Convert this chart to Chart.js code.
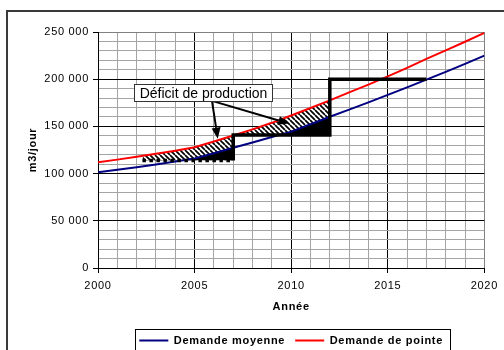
<!DOCTYPE html>
<html>
<head>
<meta charset="utf-8">
<script src="https://cdn.jsdelivr.net/npm/chart.js@4/dist/chart.umd.min.js"></script>
<style>
  html, body { margin: 0; padding: 0; background: #fff; overflow: hidden; }
  #frame { position: absolute; left: 6px; top: 10px; width: 540px; height: 380px; border: 2px solid #3a3a3a; }
  #wrap { position: absolute; left: 0; top: 0; width: 504px; height: 350px; }
  canvas { display: block; }
</style>
</head>
<body>
<div id="frame"></div>
<div id="wrap"><canvas id="demand-chart" width="504" height="350"></canvas></div>
<script>
'use strict';

const years = [2000, 2001, 2002, 2003, 2004, 2005, 2006, 2007, 2008, 2009, 2010,
  2011, 2012, 2013, 2014, 2015, 2016, 2017, 2018, 2019, 2020];
const avgDemand = [101500, 104000, 106800, 109700, 112700, 116000, 121500, 127300, 133000, 138700, 144500,
  152300, 160200, 167800, 175500, 183400, 191300, 199500, 207800, 216300, 225000];
const peakDemand = [112000, 114800, 117800, 121000, 124300, 128000, 134000, 140300, 146800, 153800, 161500,
  169500, 177600, 186000, 194300, 203000, 212000, 221500, 230500, 239700, 249000];

// production capacity steps
const capYears = [2002.3, 2007, 2007, 2012, 2012, 2017];
const capValues = [114000, 114000, 141000, 141000, 200000, 200000];

// deficit zone: starts where the dotted capacity starts, ends at 2012
const deficitStart = [2002.3, 107600, 118700]; // year, avg, peak read at the start
const deficitEnd = 2012;

const seriesLabels = ['Demande moyenne', 'Demande de pointe'];
const deficitLabel = 'Déficit de production';
const labelPos = [2005.45, 186000];
const arrowFrom = [2005.9, 177000];
const arrowTips = [[2006.2, 137000], [2009.9, 153000]];

const FONT = '"Liberation Sans", Arial, sans-serif';
const MINOR = '#a4a4a4';
const EDGE = '#808080';

function formatThousands(v) {
  return String(v).replace(/\B(?=(\d{3})+(?!\d))/g, ' ');
}

function toPoints(xs, ys) {
  return xs.map((x, i) => ({ x: x, y: ys[i] }));
}

// build the deficit polygons from the demand arrays
const deficitX = [deficitStart[0]];
const deficitAvg = [deficitStart[1]];
const deficitPeak = [deficitStart[2]];
const deficitCap = [capValues[0]];
years.forEach((yr, i) => {
  if (yr <= deficitStart[0] || yr > deficitEnd) return;
  deficitX.push(yr);
  deficitAvg.push(avgDemand[i]);
  deficitPeak.push(peakDemand[i]);
  deficitCap.push(yr <= capYears[1] ? capValues[0] : capValues[2]);
  if (yr === capYears[1]) {
    deficitX.push(yr);
    deficitAvg.push(avgDemand[i]);
    deficitPeak.push(peakDemand[i]);
    deficitCap.push(capValues[2]);
  }
});

function makeHatch() {
  const s = 5;
  const c = document.createElement('canvas');
  c.width = s;
  c.height = s;
  const g = c.getContext('2d');
  g.fillStyle = '#fff';
  g.fillRect(0, 0, s, s);
  g.strokeStyle = '#000';
  g.lineWidth = 1.7;
  g.beginPath();
  for (const k of [-s, 0, s]) {
    g.moveTo(k, 0);
    g.lineTo(k + s, s);
  }
  g.stroke();
  return g.createPattern(c, 'repeat');
}

const spacingPlugin = {
  id: 'spacing',
  beforeUpdate(chart) { chart.ctx.letterSpacing = '0.7px'; },
  beforeDraw(chart) { chart.ctx.letterSpacing = '0.7px'; }
};

function drawArrow(ctx, x0, y0, x1, y1) {
  const ang = Math.atan2(y1 - y0, x1 - x0);
  const len = 11, half = 4.5;
  const bx = x1 - Math.cos(ang) * len, by = y1 - Math.sin(ang) * len;
  ctx.beginPath();
  ctx.moveTo(x0, y0);
  ctx.lineTo(bx, by);
  ctx.stroke();
  ctx.beginPath();
  ctx.moveTo(x1, y1);
  ctx.lineTo(bx + Math.sin(ang) * half, by - Math.cos(ang) * half);
  ctx.lineTo(bx - Math.sin(ang) * half, by + Math.cos(ang) * half);
  ctx.closePath();
  ctx.fill();
}

const annotationPlugin = {
  id: 'deficitNote',
  afterDatasetsDraw(chart) {
    const { ctx, scales: { x, y } } = chart;
    ctx.save();
    ctx.letterSpacing = '0px';
    ctx.strokeStyle = '#000';
    ctx.fillStyle = '#000';
    ctx.lineWidth = 2;
    const sx = x.getPixelForValue(arrowFrom[0]);
    const sy = y.getPixelForValue(arrowFrom[1]);
    arrowTips.forEach(([tx, tv]) => {
      drawArrow(ctx, sx, sy, x.getPixelForValue(tx), y.getPixelForValue(tv));
    });
    ctx.font = '14px ' + FONT;
    const cx = x.getPixelForValue(labelPos[0]);
    const cy = y.getPixelForValue(labelPos[1]);
    const w = Math.round(ctx.measureText(deficitLabel).width + 10);
    const h = 17;
    const left = Math.round(cx - w / 2) + 0.5;
    const top = Math.round(cy - h / 2) + 0.5;
    ctx.fillStyle = '#fff';
    ctx.fillRect(left, top, w, h);
    ctx.strokeStyle = '#333';
    ctx.lineWidth = 1;
    ctx.strokeRect(left, top, w, h);
    ctx.fillStyle = '#000';
    ctx.textAlign = 'center';
    ctx.textBaseline = 'middle';
    ctx.fillText(deficitLabel, left + w / 2, top + h / 2 + 1);
    ctx.restore();
  }
};

const legendBoxPlugin = {
  id: 'legendBox',
  afterDraw(chart) {
    const boxes = chart.legend && chart.legend.legendHitBoxes;
    if (!boxes || !boxes.length) return;
    const first = boxes[0];
    const last = boxes[boxes.length - 1];
    const mid = first.top + first.height / 2;
    const left = Math.round(first.left - 4) + 0.5;
    const right = Math.round(last.left + last.width + 7) + 0.5;
    const ctx = chart.ctx;
    ctx.save();
    ctx.strokeStyle = '#000';
    ctx.lineWidth = 1;
    ctx.strokeRect(left, Math.round(mid - 12) + 0.5, right - left, 24);
    ctx.restore();
  }
};

const hatch = makeHatch();
const chartContext = document.querySelector('#demand-chart').getContext('2d');

const lineDefaults = { pointRadius: 0, pointHoverRadius: 0, tension: 0 };

const chartConfig = {
  type: 'line',
  data: {
    datasets: [
      {
        ...lineDefaults,
        label: 'Capacité',
        data: toPoints(capYears, capValues),
        borderColor: '#000',
        borderWidth: 3.5,
        borderCapStyle: 'butt',
        borderJoinStyle: 'miter',
        fill: false,
        segment: {
          borderDash: (c) => (c.p0DataIndex === 0 ? [3.5, 3.5] : undefined)
        }
      },
      {
        ...lineDefaults,
        label: seriesLabels[0],
        data: toPoints(years, avgDemand),
        borderColor: '#000080',
        backgroundColor: '#000080',
        borderWidth: 2,
        fill: false
      },
      {
        ...lineDefaults,
        label: seriesLabels[1],
        data: toPoints(years, peakDemand),
        borderColor: '#ff0000',
        backgroundColor: '#ff0000',
        borderWidth: 2,
        fill: false
      },
      {
        ...lineDefaults,
        label: 'avg-part',
        data: toPoints(deficitX, deficitAvg),
        borderColor: 'rgba(0,0,0,0)',
        borderWidth: 0,
        backgroundColor: '#000',
        fill: { target: 5, above: '#000', below: 'rgba(0,0,0,0)' }
      },
      {
        ...lineDefaults,
        label: 'peak-part',
        data: toPoints(deficitX, deficitPeak),
        borderColor: 'rgba(0,0,0,0)',
        borderWidth: 0,
        backgroundColor: hatch,
        fill: { target: 5, above: hatch, below: 'rgba(0,0,0,0)' }
      },
      {
        ...lineDefaults,
        label: 'cap-part',
        data: toPoints(deficitX, deficitCap),
        borderColor: 'rgba(0,0,0,0)',
        borderWidth: 0,
        fill: false
      }
    ]
  },
  options: {
    responsive: false,
    animation: false,
    events: [],
    layout: { padding: { top: 32, right: 18, bottom: -6, left: 0 } },
    scales: {
      x: {
        type: 'linear',
        min: 2000,
        max: 2020,
        afterFit: (s) => { s.height = 57; },
        ticks: {
          stepSize: 1,
          autoSkip: false,
          maxRotation: 0,
          padding: 6,
          color: '#000',
          font: { family: FONT, size: 11 },
          callback: (v) => (v % 5 === 0 ? String(v) : '')
        },
        grid: {
          color: (c) => (c.tick.value === 2020 ? EDGE : c.tick.value % 5 === 0 ? '#000' : MINOR),
          tickColor: (c) => (c.tick.value % 5 === 0 ? '#000' : 'rgba(0,0,0,0)'),
          tickLength: 5,
          lineWidth: 1
        },
        border: { color: '#000', width: 1 },
        title: {
          display: true,
          text: 'Année',
          color: '#000',
          font: { family: FONT, size: 11, weight: 'bold' },
          padding: { top: 0, bottom: 11 }
        }
      },
      y: {
        min: 0,
        max: 250000,
        afterFit: (s) => { s.width = 98; },
        ticks: {
          stepSize: 10000,
          autoSkip: false,
          padding: 4,
          color: '#000',
          font: { family: FONT, size: 11 },
          callback: (v) => (v % 50000 === 0 ? formatThousands(v) : '')
        },
        grid: {
          color: (c) => (c.tick.value === 250000 ? EDGE : c.tick.value % 50000 === 0 ? '#000' : MINOR),
          tickColor: (c) => (c.tick.value % 50000 === 0 ? '#000' : 'rgba(0,0,0,0)'),
          tickLength: 5,
          lineWidth: 1
        },
        border: { color: '#000', width: 1 },
        title: {
          display: true,
          text: 'm3/jour',
          color: '#000',
          font: { family: FONT, size: 11, weight: 'bold' },
          padding: { top: 26, bottom: 0 }
        }
      }
    },
    plugins: {
      legend: {
        position: 'bottom',
        fullSize: false,
        labels: {
          filter: (item) => item.datasetIndex === 1 || item.datasetIndex === 2,
          usePointStyle: true,
          pointStyle: 'line',
          pointStyleWidth: 29,
          boxHeight: 11,
          padding: 10,
          color: '#000',
          font: { family: FONT, size: 11, weight: 'bold' }
        }
      },
      tooltip: { enabled: false }
    }
  },
  plugins: [spacingPlugin, annotationPlugin, legendBoxPlugin]
};

const chart = new Chart(chartContext, chartConfig);
</script>
</body>
</html>
